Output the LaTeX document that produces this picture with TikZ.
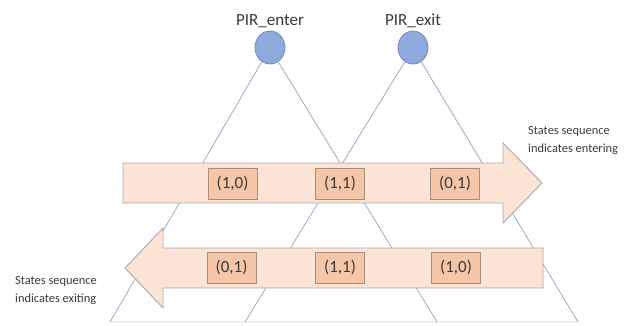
\documentclass[tikz,border=0pt]{standalone}
\usepackage{fontspec}
\setmainfont{Carlito}
\usetikzlibrary{shapes.geometric}
\definecolor{circfill}{HTML}{8FAADC}
\definecolor{circdraw}{HTML}{6F8CC4}
\definecolor{beamcol}{HTML}{8FA3C6}
\definecolor{arrfill}{HTML}{FBE4D6}
\definecolor{arrdraw}{HTML}{AFA7A3}
\definecolor{boxfill}{HTML}{F5C6A8}
\definecolor{boxdraw}{HTML}{A88C7E}
\definecolor{baseblue}{HTML}{E8F1FA}
\definecolor{txtcol}{HTML}{3A3A3A}
\tikzset{
  sensor/.style={ellipse, draw=circdraw, fill=circfill, line width=0.8pt, minimum width=30pt, minimum height=33pt, inner sep=0pt},
  beam/.style={draw=beamcol, line width=0.7pt},
  bigarrow/.style={draw=arrdraw, fill=arrfill, line width=0.9pt},
  statebox/.style={draw=boxdraw, fill=boxfill, line width=0.8pt, minimum width=49pt, minimum height=31pt, inner sep=0pt, text=txtcol, font=\fontsize{17}{20}\selectfont},
  lbl/.style={text=txtcol, font=\fontsize{17}{20}\selectfont, inner sep=0pt},
  note/.style={text=txtcol, font=\fontsize{12.4}{18}\selectfont, align=left, inner sep=0pt, anchor=west}
}
\begin{document}
\begin{tikzpicture}[x=1pt,y=-1pt]
\useasboundingbox (0,0) rectangle (628,325);
% sensors
\node[sensor] (enter) at (270,47.5) {};
\node[sensor] (exit) at (413,47.5) {};
\node[lbl] (enterlbl) at (270,21) {PIR\_enter};
\node[lbl] (exitlbl) at (413,21) {PIR\_exit};
% beam end points
\coordinate (a) at (110,322);
\coordinate (b) at (437,322);
\coordinate (c) at (245,322);
\coordinate (d) at (578,322);
\draw[draw=baseblue, line width=1.6pt] (a) -- (d);
\draw[beam] (enter.240) -- (a);
\draw[beam] (enter.300) -- (b);
\draw[beam] (exit.240) -- (c);
\draw[beam] (exit.300) -- (d);
% big arrows
\path[bigarrow] (123,163) -- (503,163) -- (503,143) -- (542,183) -- (503,223) -- (503,203) -- (123,203) -- cycle;
\path[bigarrow] (543,248) -- (163,248) -- (163,228) -- (125,268) -- (163,308) -- (163,288) -- (543,288) -- cycle;
% state boxes
\node[statebox] (u1) at (232.5,183.5) {(1,0)};
\node[statebox] (u2) at (340,183.5) {(1,1)};
\node[statebox] (u3) at (455,183.5) {(0,1)};
\node[statebox] (l1) at (231.5,267.5) {(0,1)};
\node[statebox] (l2) at (340,267.5) {(1,1)};
\node[statebox] (l3) at (456,267.5) {(1,0)};
% notes
\node[note] (n1) at (528,141) {States sequence\\indicates entering};
\node[note] (n2) at (15,291) {States sequence\\indicates exiting};
\end{tikzpicture}
\end{document}
